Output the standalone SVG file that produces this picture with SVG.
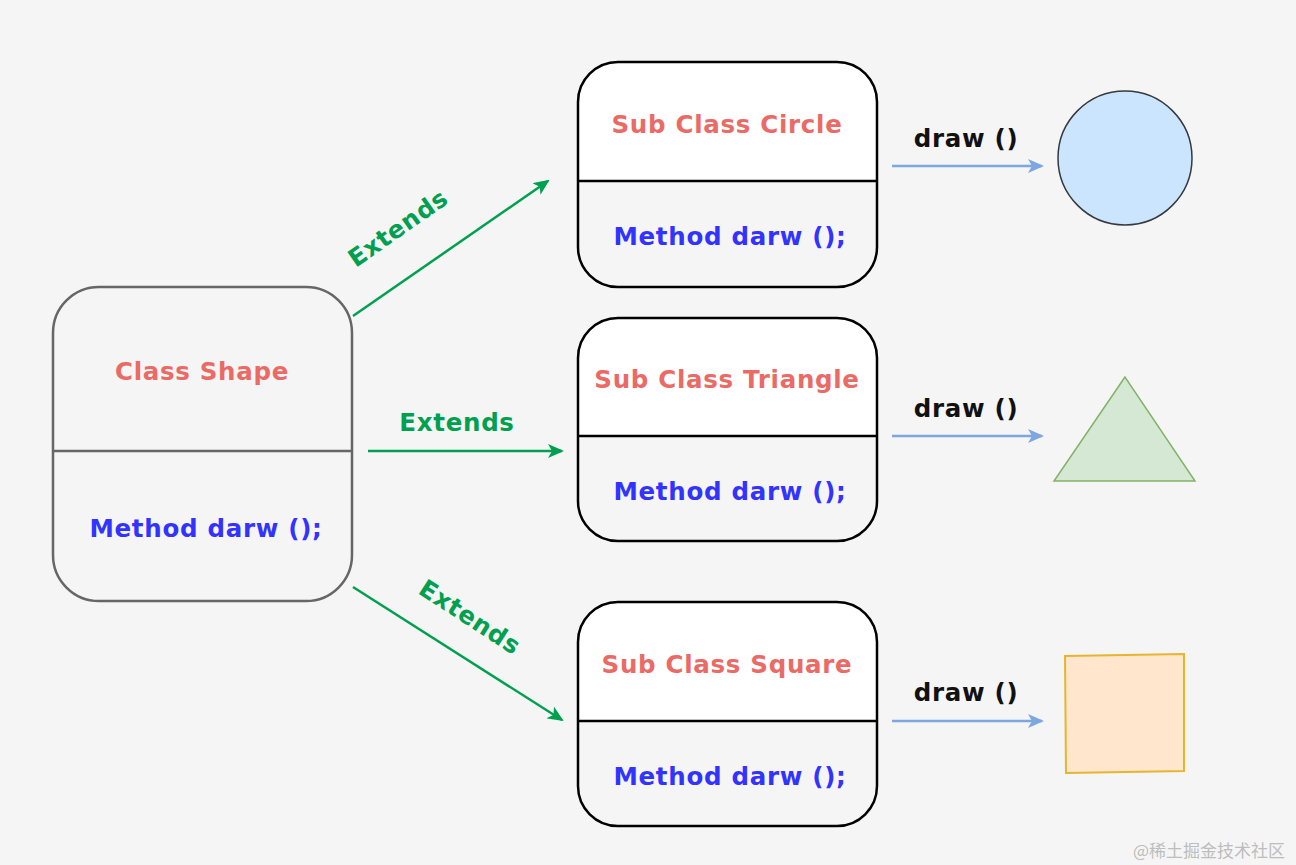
<svg xmlns="http://www.w3.org/2000/svg" width="1296" height="865" viewBox="0 0 1296 865">
<defs>
<style>
.t{font-family:"DejaVu Sans",Verdana,sans-serif;font-weight:bold;font-size:24.5px;letter-spacing:0.7px;text-anchor:middle;dominant-baseline:central}
.red{fill:#ea6b66}.blue{fill:#3333ff}.green{fill:#00a050}.blk{fill:#111}
.cls{fill:none;stroke:#000;stroke-width:2.5}
.g{stroke:#00a050;stroke-width:2.5;fill:none}
.b{stroke:#7ea6e0;stroke-width:2.5;fill:none}
</style>
<marker id="ag" viewBox="0 0 16 14" refX="14" refY="7" markerWidth="16" markerHeight="14" markerUnits="userSpaceOnUse" orient="auto">
<path d="M0,0 L16,7 L0,14 L4,7 Z" fill="#00a050"/>
</marker>
<marker id="ab" viewBox="0 0 16 14" refX="14" refY="7" markerWidth="16" markerHeight="14" markerUnits="userSpaceOnUse" orient="auto">
<path d="M0,0 L16,7 L0,14 L4,7 Z" fill="#7ea6e0"/>
</marker>
</defs>
<rect width="1296" height="865" fill="#f5f5f5"/>

<g id="class-shape">
<rect x="53" y="287" width="299" height="314" rx="46" fill="#f5f5f5" stroke="#666" stroke-width="2.5"/>
<line x1="53" y1="451" x2="352" y2="451" stroke="#666" stroke-width="2.5"/>
<text class="t red" x="202" y="371">Class Shape</text>
<text class="t blue" x="206" y="528">Method darw ();</text>
</g>

<g id="sub-circle">
<path d="M578,181 V102 A40,40 0 0 1 618,62 H837 A40,40 0 0 1 877,102 V181 Z" fill="#fff"/>
<rect class="cls" x="578" y="62" width="299" height="225" rx="40"/>
<line x1="578" y1="181" x2="877" y2="181" stroke="#000" stroke-width="2.5"/>
<text class="t red" x="727" y="124">Sub Class Circle</text>
<text class="t blue" x="730" y="236">Method darw ();</text>
</g>

<g id="sub-triangle">
<path d="M578,436 V358 A40,40 0 0 1 618,318 H837 A40,40 0 0 1 877,358 V436 Z" fill="#fff"/>
<rect class="cls" x="578" y="318" width="299" height="223" rx="40"/>
<line x1="578" y1="436" x2="877" y2="436" stroke="#000" stroke-width="2.5"/>
<text class="t red" x="727" y="379">Sub Class Triangle</text>
<text class="t blue" x="730" y="491">Method darw ();</text>
</g>

<g id="sub-square">
<path d="M578,721 V642 A40,40 0 0 1 618,602 H837 A40,40 0 0 1 877,642 V721 Z" fill="#fff"/>
<rect class="cls" x="578" y="602" width="299" height="224" rx="40"/>
<line x1="578" y1="721" x2="877" y2="721" stroke="#000" stroke-width="2.5"/>
<text class="t red" x="727" y="664">Sub Class Square</text>
<text class="t blue" x="730" y="776">Method darw ();</text>
</g>

<g id="shape-circle">
<circle cx="1125" cy="158" r="67" fill="#cce5ff" stroke="#36393d" stroke-width="1.5"/>
</g>
<g id="shape-triangle">
<polygon points="1125,377 1054,481 1195,481" fill="#d5e8d4" stroke="#82b366" stroke-width="1.5"/>
</g>
<g id="shape-square">
<polygon points="1065,656 1184,654 1184,771 1066,773" fill="#ffe6cc" stroke="#e6b530" stroke-width="2"/>
</g>

<g id="connectors">
<line class="g" x1="353" y1="316" x2="548" y2="181" marker-end="url(#ag)"/>
<line class="g" x1="368" y1="451" x2="562" y2="451" marker-end="url(#ag)"/>
<line class="g" x1="353" y1="587" x2="562" y2="720" marker-end="url(#ag)"/>
<line class="b" x1="892" y1="166" x2="1042" y2="166" marker-end="url(#ab)"/>
<line class="b" x1="892" y1="436" x2="1042" y2="436" marker-end="url(#ab)"/>
<line class="b" x1="892" y1="721" x2="1042" y2="721" marker-end="url(#ab)"/>
<text class="t green" transform="translate(398,228) rotate(-35)">Extends</text>
<text class="t green" x="457" y="422">Extends</text>
<text class="t green" transform="translate(470,617) rotate(33)">Extends</text>
<text class="t blk" x="966" y="138">draw ()</text>
<text class="t blk" x="966" y="408">draw ()</text>
<text class="t blk" x="966" y="692">draw ()</text>
</g>

<text x="1209" y="849" font-family="'Noto Sans CJK SC',sans-serif" font-size="17" fill="#bdbdbd" text-anchor="middle" dominant-baseline="central">@稀土掘金技术社区</text>
</svg>
